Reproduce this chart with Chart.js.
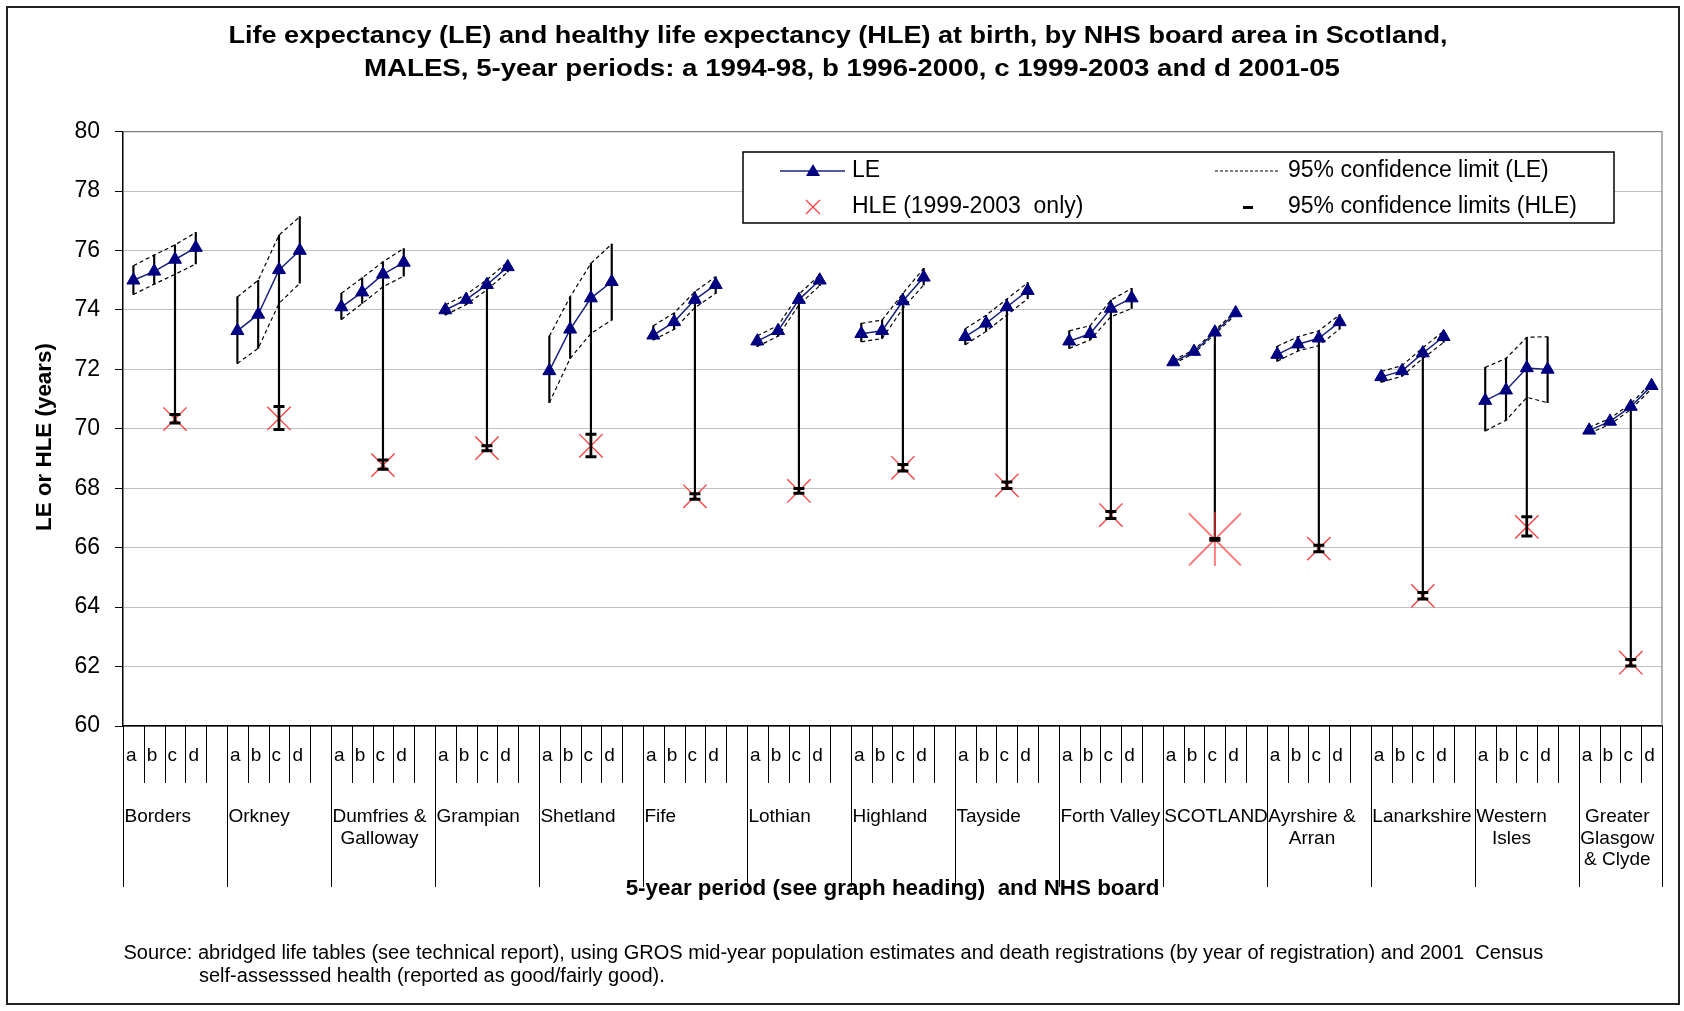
<!DOCTYPE html>
<html><head><meta charset="utf-8">
<script src="https://cdn.jsdelivr.net/npm/chart.js@4.4.1/dist/chart.umd.min.js"></script>
<style>html,body{margin:0;padding:0;background:#fff;}#wrap{width:1684px;height:1011px;}</style>
</head><body><div id="wrap"><canvas id="c" width="1684" height="1011"></canvas></div>
<script>
// ---------- DATA ----------
const groups = ['Borders','Orkney','Dumfries & Galloway','Grampian','Shetland','Fife','Lothian','Highland','Tayside','Forth Valley','SCOTLAND','Ayrshire & Arran','Lanarkshire','Western Isles','Greater Glasgow & Clyde'];
const groupLines = [['Borders'],['Orkney'],['Dumfries &','Galloway'],['Grampian'],['Shetland'],['Fife'],['Lothian'],['Highland'],['Tayside'],['Forth Valley'],['SCOTLAND'],['Ayrshire &','Arran'],['Lanarkshire'],['Western','Isles'],['Greater','Glasgow','& Clyde']];
const periods = ['a','b','c','d'];
const leValues = [
  [75.0,75.3,75.7,76.1],[73.3,73.85,75.35,76.0],[74.1,74.6,75.2,75.6],[74.0,74.35,74.85,75.45],
  [71.95,73.35,74.4,74.95],[73.15,73.6,74.35,74.85],[72.95,73.3,74.35,75.0],[73.2,73.3,74.3,75.1],
  [73.1,73.55,74.1,74.65],[72.95,73.2,74.05,74.4],[72.25,72.6,73.25,73.9],[72.5,72.85,73.05,73.6],
  [71.75,71.95,72.55,73.1],[70.95,71.3,72.05,72.0],[69.95,70.25,70.75,71.45]];
const leUpper = [
  [75.49,75.85,76.19,76.61],[74.44,75.0,76.52,77.14],[74.56,75.08,75.62,76.07],[74.17,74.52,75.02,75.62],
  [73.12,74.44,75.57,76.22],[73.47,73.9,74.62,75.12],[73.13,73.48,74.53,75.18],[73.55,73.66,74.56,75.4],
  [73.37,73.82,74.37,74.92],[73.3,73.47,74.33,74.73],[72.31,72.66,73.31,73.96],[72.78,73.1,73.3,73.84],
  [71.93,72.13,72.73,73.29],[72.07,72.37,73.08,73.1],[70.05,70.35,70.85,71.55]];
const leLower = [
  [74.52,74.87,75.2,75.55],[72.2,72.71,74.22,74.9],[73.68,74.22,74.78,75.14],[73.83,74.18,74.68,75.28],
  [70.88,72.37,73.21,73.66],[72.99,73.35,74.08,74.56],[72.77,73.12,74.17,74.82],[72.93,73.04,74.05,74.84],
  [72.83,73.28,73.83,74.38],[72.71,72.99,73.77,74.05],[72.19,72.54,73.19,73.84],[72.28,72.62,72.8,73.36],
  [71.57,71.77,72.37,72.91],[69.93,70.29,71.06,70.88],[69.85,70.15,70.65,71.35]];
const hleValues = [70.33,70.35,68.78,69.35,69.43,67.73,67.91,68.69,68.1,67.1,66.28,65.97,64.38,66.7,62.13];
const hleLower  = [70.2,69.98,68.64,69.26,69.06,67.63,67.83,68.58,67.99,66.98,66.25,65.86,64.27,66.39,62.02];
const hleUpper  = [70.48,70.75,68.95,69.43,69.82,67.82,67.99,68.8,68.21,67.22,66.31,66.08,64.49,67.04,62.24];
const yTicks = {min:60, max:80, step:2};
const titleLines = ['Life expectancy (LE) and healthy life expectancy (HLE) at birth, by NHS board area in Scotland,','MALES, 5-year periods: a 1994-98, b 1996-2000, c 1999-2003 and d 2001-05'];
const yTitle = 'LE or HLE (years)';
const xTitle = '5-year period (see graph heading)  and NHS board';
const sourceLines = ['Source: abridged life tables (see technical report), using GROS mid-year population estimates and death registrations (by year of registration) and 2001  Census','self-assesssed health (reported as good/fairly good).'];
const legendLabels = ['LE','HLE (1999-2003  only)','95% confidence limit (LE)','95% confidence limits (HLE)'];

// ---------- BUILD ----------
const FONT = "'Liberation Sans', Arial, sans-serif";
const labels = [];
groups.forEach((g,gi)=>{ for(let s=0;s<5;s++){ if(gi===groups.length-1 && s===4) break; labels.push(s<4?periods[s]:''); } });
const N = labels.length;
const idx = (g,s)=>g*5+s;
const arr = ()=>new Array(N).fill(null);
const leData=arr(), hiData=arr(), loData=arr(), vData=arr(), hleData=arr(), hleBar=arr(), hleLoD=arr(), hleHiD=arr();
groups.forEach((g,gi)=>{
  for(let s=0;s<4;s++){
    const i=idx(gi,s);
    leData[i]=leValues[gi][s]; hiData[i]=leUpper[gi][s]; loData[i]=leLower[gi][s];
    vData[i]= s===2 ? [hleLower[gi], leUpper[gi][s]] : [leLower[gi][s], leUpper[gi][s]];
  }
  const c=idx(gi,2);
  hleData[c]=hleValues[gi]; hleBar[c]=[hleLower[gi],hleUpper[gi]]; hleLoD[c]=hleLower[gi]; hleHiD[c]=hleUpper[gi];
});
const scotIdx = idx(groups.indexOf('SCOTLAND'),2);
const HLE_RED = '#ff3b3b';
const star = document.createElement('canvas'); star.width=54; star.height=54;
(function(){const x=star.getContext('2d'); x.strokeStyle=HLE_RED; x.lineWidth=1.3; x.beginPath();
 x.moveTo(1,1);x.lineTo(53,53);x.moveTo(53,1);x.lineTo(1,53);x.moveTo(27,0);x.lineTo(27,54);x.stroke();})();

function stretchText(ctx, text, cx, y, target){
  const w = ctx.measureText(text).width; const sx = target/w;
  ctx.save(); ctx.translate(cx, y); ctx.scale(sx,1); ctx.textAlign='center'; ctx.fillText(text,0,0); ctx.restore();
}

const decor = {
  id:'decor',
  beforeDraw(chart){const ctx=chart.ctx; ctx.save(); ctx.fillStyle='#fff'; ctx.fillRect(0,0,chart.width,chart.height); ctx.restore();},
  beforeDatasetsDraw(chart){
    const {ctx, chartArea:a}=chart; ctx.save(); ctx.strokeStyle='#808080'; ctx.lineWidth=1.2;
    ctx.beginPath(); ctx.moveTo(a.left,a.top); ctx.lineTo(a.right,a.top); ctx.lineTo(a.right,a.bottom); ctx.stroke(); ctx.restore();
  },
  afterDraw(chart){
    const {ctx, chartArea:a}=chart; const xs=chart.scales.x;
    const w = xs.getPixelForValue(1)-xs.getPixelForValue(0);
    const left = xs.getPixelForValue(0)-w/2;
    ctx.save();
    ctx.strokeStyle='#000'; ctx.lineWidth=1;
    for(let k=0;k<=N;k++){
      const x=Math.round(left+k*w)+0.5; const long=(k%5===0)||k===N;
      ctx.beginPath(); ctx.moveTo(x,a.bottom); ctx.lineTo(x, long?887:783); ctx.stroke();
    }
    ctx.fillStyle='#000'; ctx.font='19px '+FONT; ctx.textBaseline='middle'; ctx.textAlign='left';
    for(let i=0;i<N;i++){ if(labels[i]) ctx.fillText(labels[i], left+i*w+3, 756); }
    groupLines.forEach((lines,gi)=>{
      const gx = left+gi*5*w+1.5;
      const bw = Math.max(...lines.map(l=>ctx.measureText(l).width));
      lines.forEach((l,li)=>{ const lw=ctx.measureText(l).width; ctx.fillText(l, gx+(bw-lw)/2, 817+li*21.5); });
    });
    ctx.font='bold 22.4px '+FONT; ctx.textAlign='center';
    ctx.fillText(xTitle, (a.left+a.right)/2, 889);
    ctx.save(); ctx.translate(45,437); ctx.rotate(-Math.PI/2); ctx.fillText(yTitle,0,0); ctx.restore();
    ctx.font='bold 23.5px '+FONT;
    stretchText(ctx, titleLines[0], 838, 37, 1219);
    stretchText(ctx, titleLines[1], 852, 70, 976);
    ctx.font='20px '+FONT; ctx.textAlign='left';
    ctx.fillText(sourceLines[0], 123.5, 953); ctx.fillText(sourceLines[1], 199, 976);
    // legend
    ctx.fillStyle='#fff'; ctx.fillRect(743,152,871,71);
    ctx.strokeStyle='#000'; ctx.lineWidth=1.5; ctx.strokeRect(743,152,871,71);
    ctx.strokeStyle='#1a237e'; ctx.lineWidth=1.5; ctx.beginPath(); ctx.moveTo(780,171); ctx.lineTo(845,171); ctx.stroke();
    ctx.fillStyle='#000080'; ctx.beginPath(); ctx.moveTo(813,164); ctx.lineTo(820,176); ctx.lineTo(806,176); ctx.closePath(); ctx.fill();
    ctx.strokeStyle=HLE_RED; ctx.lineWidth=1.2; ctx.beginPath(); ctx.moveTo(806,200); ctx.lineTo(820,214); ctx.moveTo(820,200); ctx.lineTo(806,214); ctx.stroke();
    ctx.strokeStyle='#000'; ctx.lineWidth=1; ctx.setLineDash([3,2]); ctx.beginPath(); ctx.moveTo(1215,171); ctx.lineTo(1279,171); ctx.stroke(); ctx.setLineDash([]);
    ctx.fillStyle='#000'; ctx.fillRect(1243,206,10,3);
    ctx.font='23px '+FONT; ctx.textAlign='left'; ctx.textBaseline='middle';
    ctx.fillText(legendLabels[0],852,171); ctx.fillText(legendLabels[1],852,207);
    ctx.fillText(legendLabels[2],1288,171); ctx.fillText(legendLabels[3],1288,207);
    ctx.strokeStyle='#222'; ctx.lineWidth=2; ctx.strokeRect(7,7,1672,997);
    ctx.restore();
  }
};

new Chart(document.getElementById('c'), {
  type:'bar',
  data:{ labels, datasets:[
    {type:'line', label:'LE', data:leData, borderColor:'#1a237e', borderWidth:1.5, pointStyle:'triangle', pointRadius:7.5, pointBackgroundColor:'#000080', pointBorderColor:'#000080', pointBorderWidth:1, spanGaps:false, order:1},
    {type:'line', label:'HLE cap hi', data:hleHiD, showLine:false, pointStyle:'line', pointRadius:5.5, pointBorderWidth:3, pointBorderColor:'#000', order:2},
    {type:'line', label:'HLE cap lo', data:hleLoD, showLine:false, pointStyle:'line', pointRadius:5.5, pointBorderWidth:3, pointBorderColor:'#000', order:2},
    {type:'bar', label:'HLE CI', data:hleBar, backgroundColor:'#000', barThickness:2, grouped:false, order:3},
    {type:'line', label:'HLE', data:hleData, showLine:false, pointStyle:(c)=>c.dataIndex===scotIdx?star:'crossRot', pointRadius:16.5, pointBorderColor:HLE_RED, pointBorderWidth:1.3, order:4},
    {type:'line', label:'LE upper', data:hiData, borderColor:'#000', borderWidth:1.2, borderDash:[4,3], pointRadius:0, spanGaps:false, order:5},
    {type:'line', label:'LE lower', data:loData, borderColor:'#000', borderWidth:1.2, borderDash:[4,3], pointRadius:0, spanGaps:false, order:5},
    {type:'bar', label:'LE CI', data:vData, backgroundColor:'#000', barThickness:1.5, grouped:false, order:6}
  ]},
  options:{
    responsive:false, animation:false, devicePixelRatio:1,
    layout:{padding:{left:0, top:131.7, right:22, bottom:0}},
    plugins:{legend:{display:false}, title:{display:false}, tooltip:{enabled:false}},
    scales:{
      x:{type:'category', offset:true, grid:{display:false}, ticks:{display:false}, border:{display:true, color:'#000', width:1.5},
         afterFit:(s)=>{s.height=285;}},
      y:{min:yTicks.min, max:yTicks.max, afterFit:(s)=>{s.width=123;},
         ticks:{stepSize:yTicks.step, color:'#000', font:{family:FONT, size:23}, padding:15},
         grid:{color:'#c0c0c0', lineWidth:1, tickColor:'#000', tickLength:8, drawTicks:true},
         border:{display:true, color:'#000', width:1.5}}
    }
  },
  plugins:[decor]
});
</script></body></html>
